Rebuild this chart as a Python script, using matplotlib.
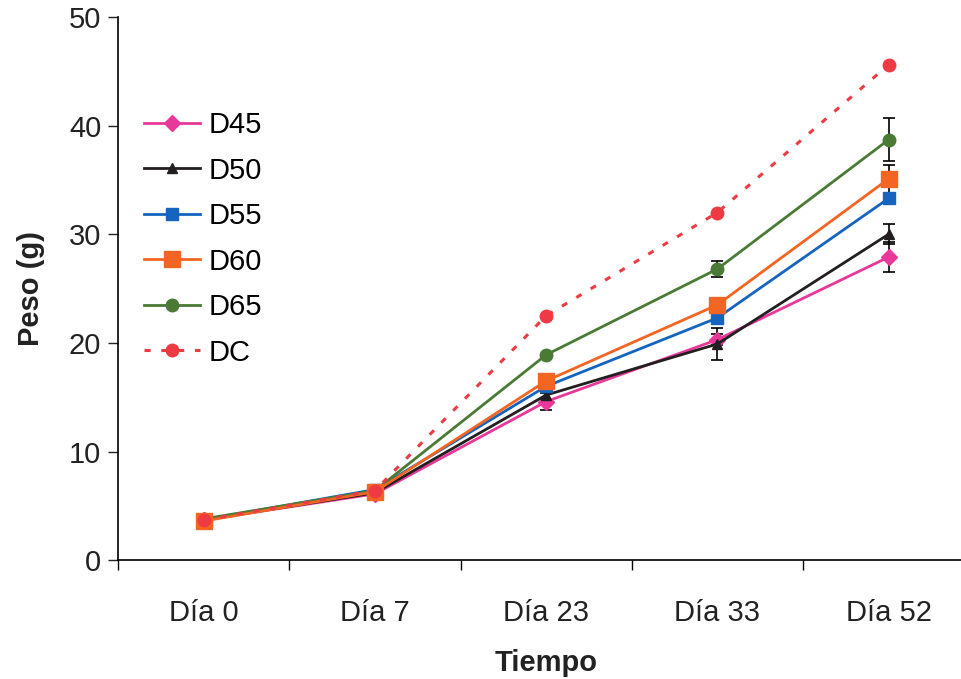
import numpy as np
import matplotlib.pyplot as plt

plt.rcParams['font.family'] = ['Liberation Sans', 'DejaVu Sans']

dias = ["Día 0", "Día 7", "Día 23", "Día 33", "Día 52"]

d45 = [3.7, 6.1, 14.6, 20.3, 27.9]
d50 = [3.7, 6.2, 15.2, 19.9, 30.0]
d55 = [3.7, 6.5, 16.0, 22.3, 33.3]
d60 = [3.6, 6.3, 16.5, 23.5, 35.1]
d65 = [3.8, 6.4, 18.9, 26.8, 38.7]
dc = [3.7, 6.4, 22.5, 32.0, 45.6]

err45 = [0.0, 0.0, 0.8, 0.5, 1.4]
err50 = [0.5, 0.0, 0.5, 1.5, 0.9]
err55 = [0.0, 0.0, 0.3, 0.6, 0.4]
err60 = [0.0, 0.0, 0.0, 0.0, 1.3]
err65 = [0.0, 0.0, 0.0, 0.75, 2.0]

x = np.arange(len(dias))

fig = plt.figure(figsize=(9.62, 6.79), dpi=100)
ax = fig.add_axes([0.1227, 0.175, 0.89, 0.8])

series = [
    ("D45", d45, err45, "#E8399A", "D", 8, "-"),
    ("D50", d50, err50, "#231F20", "^", 7, "-"),
    ("D55", d55, err55, "#1565C0", "s", 8, "-"),
    ("D60", d60, err60, "#F26522", "s", 12, "-"),
    ("D65", d65, err65, "#4A7A35", "o", 9, "-"),
]
handles = {}
for name, vals, err, col, mk, ms, ls in series:
    ax.errorbar(x, vals, yerr=err, fmt="none", ecolor="black", elinewidth=1.2,
                capsize=4, capthick=1.2, zorder=2)
for name, vals, err, col, mk, ms, ls in [series[0], series[1], series[2], series[4], series[3]]:
    h, = ax.plot(x, vals, color=col, marker=mk, markersize=ms, linewidth=2,
                 linestyle=ls, label=name, zorder=3)
    handles[name] = h
h, = ax.plot(x, dc, color="#EE3A43", marker="o", markersize=9, linewidth=2.2,
             linestyle=(0, (2, 3.5)), label="DC", zorder=4)
handles["DC"] = h

ax.set_xlim(-0.5, 4.5)
ax.set_ylim(0, 50)
ax.set_yticks([0, 10, 20, 30, 40, 50])
ax.set_xticks(x)
ax.set_xticklabels(dias)
ax.set_xticks(np.arange(-0.5, 5, 1), minor=True)
ax.tick_params(axis="x", which="major", length=0, labelsize=21, pad=28, colors="#222222")
ax.tick_params(axis="x", which="minor", length=7, width=1, direction="out")
ax.tick_params(axis="y", length=7, width=1, direction="out", labelsize=21, pad=5,
               colors="#222222")
for s in ["top", "right"]:
    ax.spines[s].set_visible(False)
ax.spines["left"].set_linewidth(1.2)
ax.spines["bottom"].set_linewidth(1.2)

ax.set_xlabel("Tiempo", fontsize=21, fontweight="bold", labelpad=16, color="#222222")
ax.set_ylabel("Peso (g)", fontsize=21, fontweight="bold", labelpad=17, color="#222222")

order = ["D45", "D50", "D55", "D60", "D65", "DC"]
ax.legend([handles[n] for n in order], order, loc="upper left",
          bbox_to_anchor=(0.0, 0.875), frameon=False, fontsize=21,
          labelspacing=0.6, handlelength=1.9, handletextpad=0.3)

plt.savefig("out.png", dpi=100)
